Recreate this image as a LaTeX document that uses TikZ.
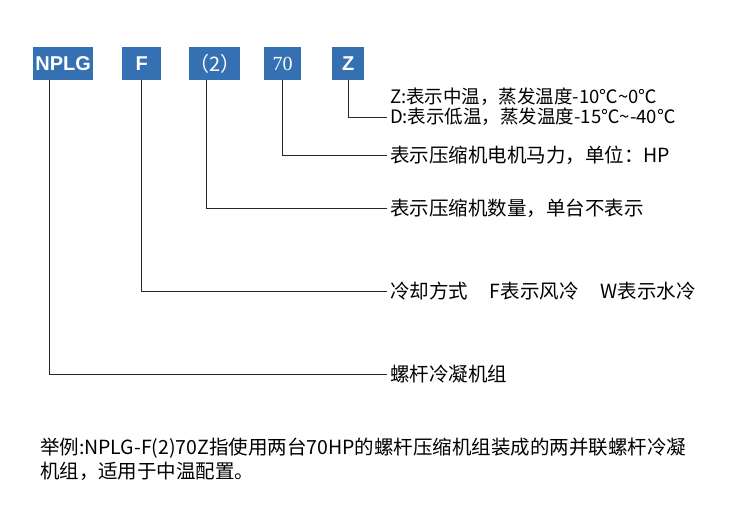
\documentclass[tikz,border=0pt]{standalone}
\usepackage{fontspec}
\newfontfamily\cjk{Noto Sans CJK SC}
\newfontfamily\boxsans{Liberation Sans}
\newfontfamily\boxserif{Liberation Serif}
\definecolor{boxblue}{RGB}{52,112,178}
\tikzset{
  codebox/.style={fill=boxblue, text=white, minimum height=33pt, inner sep=0pt, anchor=north west, font=\fontsize{20}{22}\selectfont},
  lead/.style={draw=black!85, line width=0.9pt},
  desc/.style={anchor=west, inner sep=0pt, outer xsep=3pt, font=\cjk\fontsize{19.5}{24}\selectfont},
  tempdesc/.style={desc, font=\cjk\fontsize{18.5}{20}\selectfont},
}
\begin{document}
\begin{tikzpicture}[x=1pt,y=-1pt]
\useasboundingbox (0,0) rectangle (750,520);
\node[codebox, minimum width=60pt] (b1) at (33,47) {\boxsans\bfseries NPLG};
\node[codebox, minimum width=39pt] (b2) at (122,47) {\boxsans\bfseries F};
\node[codebox, minimum width=49pt] (b3) at (189,47) {\cjk （2）};
\node[codebox, minimum width=37pt] (b4) at (264,47) {\boxserif 70};
\node[codebox, minimum width=32pt] (b5) at (332,47) {\boxsans\bfseries Z};

\node[tempdesc] (tz) at (387,97) {Z:表示中温，蒸发温度-10℃\textasciitilde0℃};
\node[tempdesc] (td) at (387,117) {D:表示低温，蒸发温度-15℃\textasciitilde-40℃};
\node[desc] (t4) at (387,155) {表示压缩机电机马力，单位：HP};
\node[desc] (t3) at (387,208) {表示压缩机数量，单台不表示};
\node[desc] (t2) at (387,291) {冷却方式\hspace{22pt}F表示风冷\hspace{22pt}W表示水冷};
\node[desc] (t1) at (387,374) {螺杆冷凝机组};

\draw[lead] (b5.south) |- (td.west);
\draw[lead] (b4.south) |- (t4.west);
\draw[lead] (b3.south -| 206,0) |- (t3.west);
\draw[lead] (b2.south) |- (t2.west);
\draw[lead] (b1.south -| 49,0) |- (t1.west);

\node[desc, anchor=north west, align=left, text width=690pt, outer xsep=0pt] (ex) at (40,438) {举例:NPLG-F(2)70Z指使用两台70HP的螺杆压缩机组装成的两并联螺杆冷凝\\[0pt]机组，适用于中温配置。};
\end{tikzpicture}
\end{document}
